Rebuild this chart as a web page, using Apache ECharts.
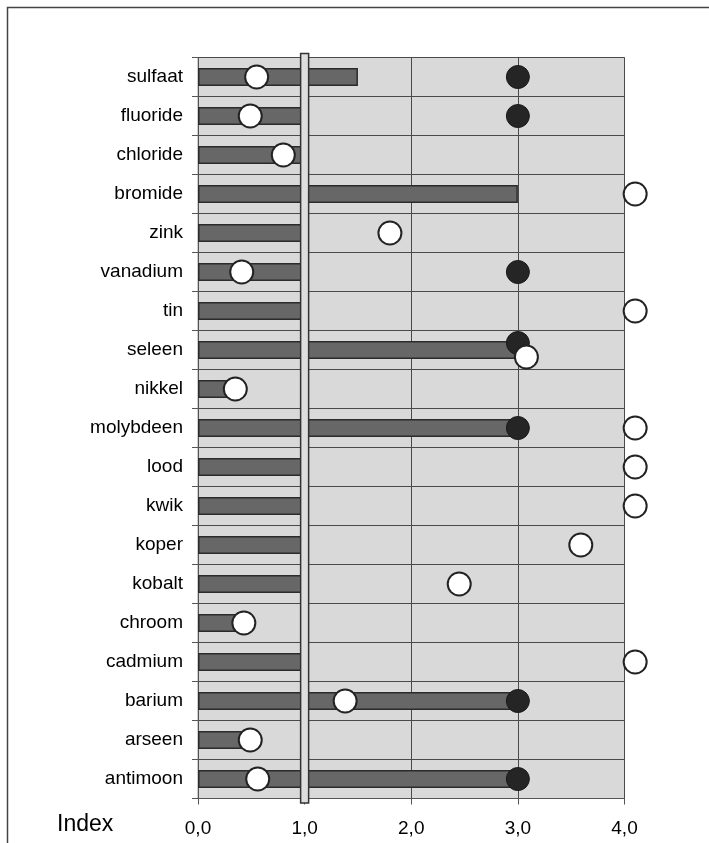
<!DOCTYPE html>
<html>
<head>
<meta charset="utf-8">
<script src="https://cdn.jsdelivr.net/npm/echarts@6/dist/echarts.min.js"></script>
<style>
html,body{margin:0;padding:0;background:#fff;}
#chart{width:709px;height:843px;}
</style>
</head>
<body>
<div id="chart"></div>
<script>
const categories = ['sulfaat','fluoride','chloride','bromide','zink','vanadium','tin','seleen','nikkel','molybdeen','lood','kwik','koper','kobalt','chroom','cadmium','barium','arseen','antimoon'];
const barValues   = [1.5, 1.0, 1.0, 3.0, 1.0, 1.0, 1.0, 3.0, 0.28, 3.0, 1.0, 1.0, 1.0, 1.0, 0.36, 1.0, 3.0, 0.44, 3.0];
const whiteValues = [0.55, 0.49, 0.80, 4.1, 1.80, 0.41, 4.1, 3.08, 0.35, 4.1, 4.1, 4.1, 3.59, 2.45, 0.43, 4.1, 1.38, 0.49, 0.56];
const darkValues  = [3.0, 3.0, null, null, null, 3.0, null, 3.0, null, 3.0, null, null, null, null, null, null, 3.0, null, 3.0];
const referenceValue = 1.0;
const xTicks = [0, 1, 2, 3, 4];

const FONT = '"Liberation Sans", Arial, Helvetica, sans-serif';
const overlapShift = 7;

function overlaps(i) {
  return darkValues[i] != null && Math.abs(darkValues[i] - whiteValues[i]) < 0.2 && barValues[i] > 2;
}

const darkData = [];
const whiteData = [];
categories.forEach(function (c, i) {
  if (darkValues[i] != null) {
    const d = { value: [darkValues[i], c] };
    if (overlaps(i)) d.symbolOffset = [0, -overlapShift];
    darkData.push(d);
  }
  if (whiteValues[i] != null) {
    const w = { value: [whiteValues[i], c] };
    if (overlaps(i)) w.symbolOffset = [0, overlapShift];
    whiteData.push(w);
  }
});

const chart = echarts.init(document.getElementById('chart'), null, { renderer: 'canvas' });
chart.setOption({
  animation: false,
  backgroundColor: '#ffffff',
  textStyle: { fontFamily: FONT },
  grid: {
    left: 198, right: 84.5, top: 57.5, bottom: 44.5,
    show: true, backgroundColor: '#d9d9d9', borderColor: '#9a9a9a', borderWidth: 1
  },
  xAxis: {
    type: 'value', min: xTicks[0], max: xTicks[xTicks.length - 1], interval: 1,
    axisLine: { show: true, lineStyle: { color: '#555', width: 1 } },
    axisTick: { show: true, length: 6, lineStyle: { color: '#555' } },
    splitLine: { show: true, lineStyle: { color: '#4a4a4a', width: 1 } },
    axisLabel: {
      fontSize: 19, color: '#000', margin: 21, fontFamily: FONT,
      formatter: function (v) { return v.toFixed(1).replace('.', ','); }
    }
  },
  yAxis: {
    type: 'category', data: categories, inverse: true,
    axisLine: { show: true, lineStyle: { color: '#555', width: 1 } },
    axisTick: { show: true, length: 6, lineStyle: { color: '#555' } },
    splitLine: { show: true, lineStyle: { color: '#4a4a4a', width: 1 } },
    axisLabel: { fontSize: 19, color: '#000', margin: 15, fontFamily: FONT }
  },
  graphic: [
    {
      type: 'rect', z: -10, silent: true,
      shape: { x: 7.5, y: 7.5, width: 800, height: 900 },
      style: { fill: 'none', stroke: '#444', lineWidth: 1.5 }
    },
    {
      type: 'text', left: 57, top: 813,
      style: { text: 'Index', fill: '#000', font: '23px ' + FONT }
    }
  ],
  series: [
    {
      type: 'bar', data: barValues, barWidth: 18, z: 2,
      itemStyle: { color: '#676767', borderColor: '#2b2b2b', borderWidth: 1.5 }
    },
    {
      type: 'custom', z: 3, clip: false,
      data: [[referenceValue, categories[0]]],
      encode: { x: 0, y: 1 },
      renderItem: function (params, api) {
        const p = api.coord([api.value(0), 0]);
        const cs = params.coordSys;
        return {
          type: 'rect',
          shape: { x: p[0] - 4, y: cs.y - 4, width: 8, height: cs.height + 8.5 },
          style: { fill: '#dedede', stroke: '#333', lineWidth: 1.5 }
        };
      }
    },
    {
      type: 'scatter', data: darkData, symbol: 'circle', symbolSize: 23, z: 4, clip: false,
      itemStyle: { color: '#252525', borderColor: '#1a1a1a', borderWidth: 1, opacity: 1 }
    },
    {
      type: 'scatter', data: whiteData, symbol: 'circle', symbolSize: 23, z: 5, clip: false,
      itemStyle: { color: '#ffffff', borderColor: '#222', borderWidth: 2, opacity: 1 }
    }
  ]
});
</script>
</body>
</html>
